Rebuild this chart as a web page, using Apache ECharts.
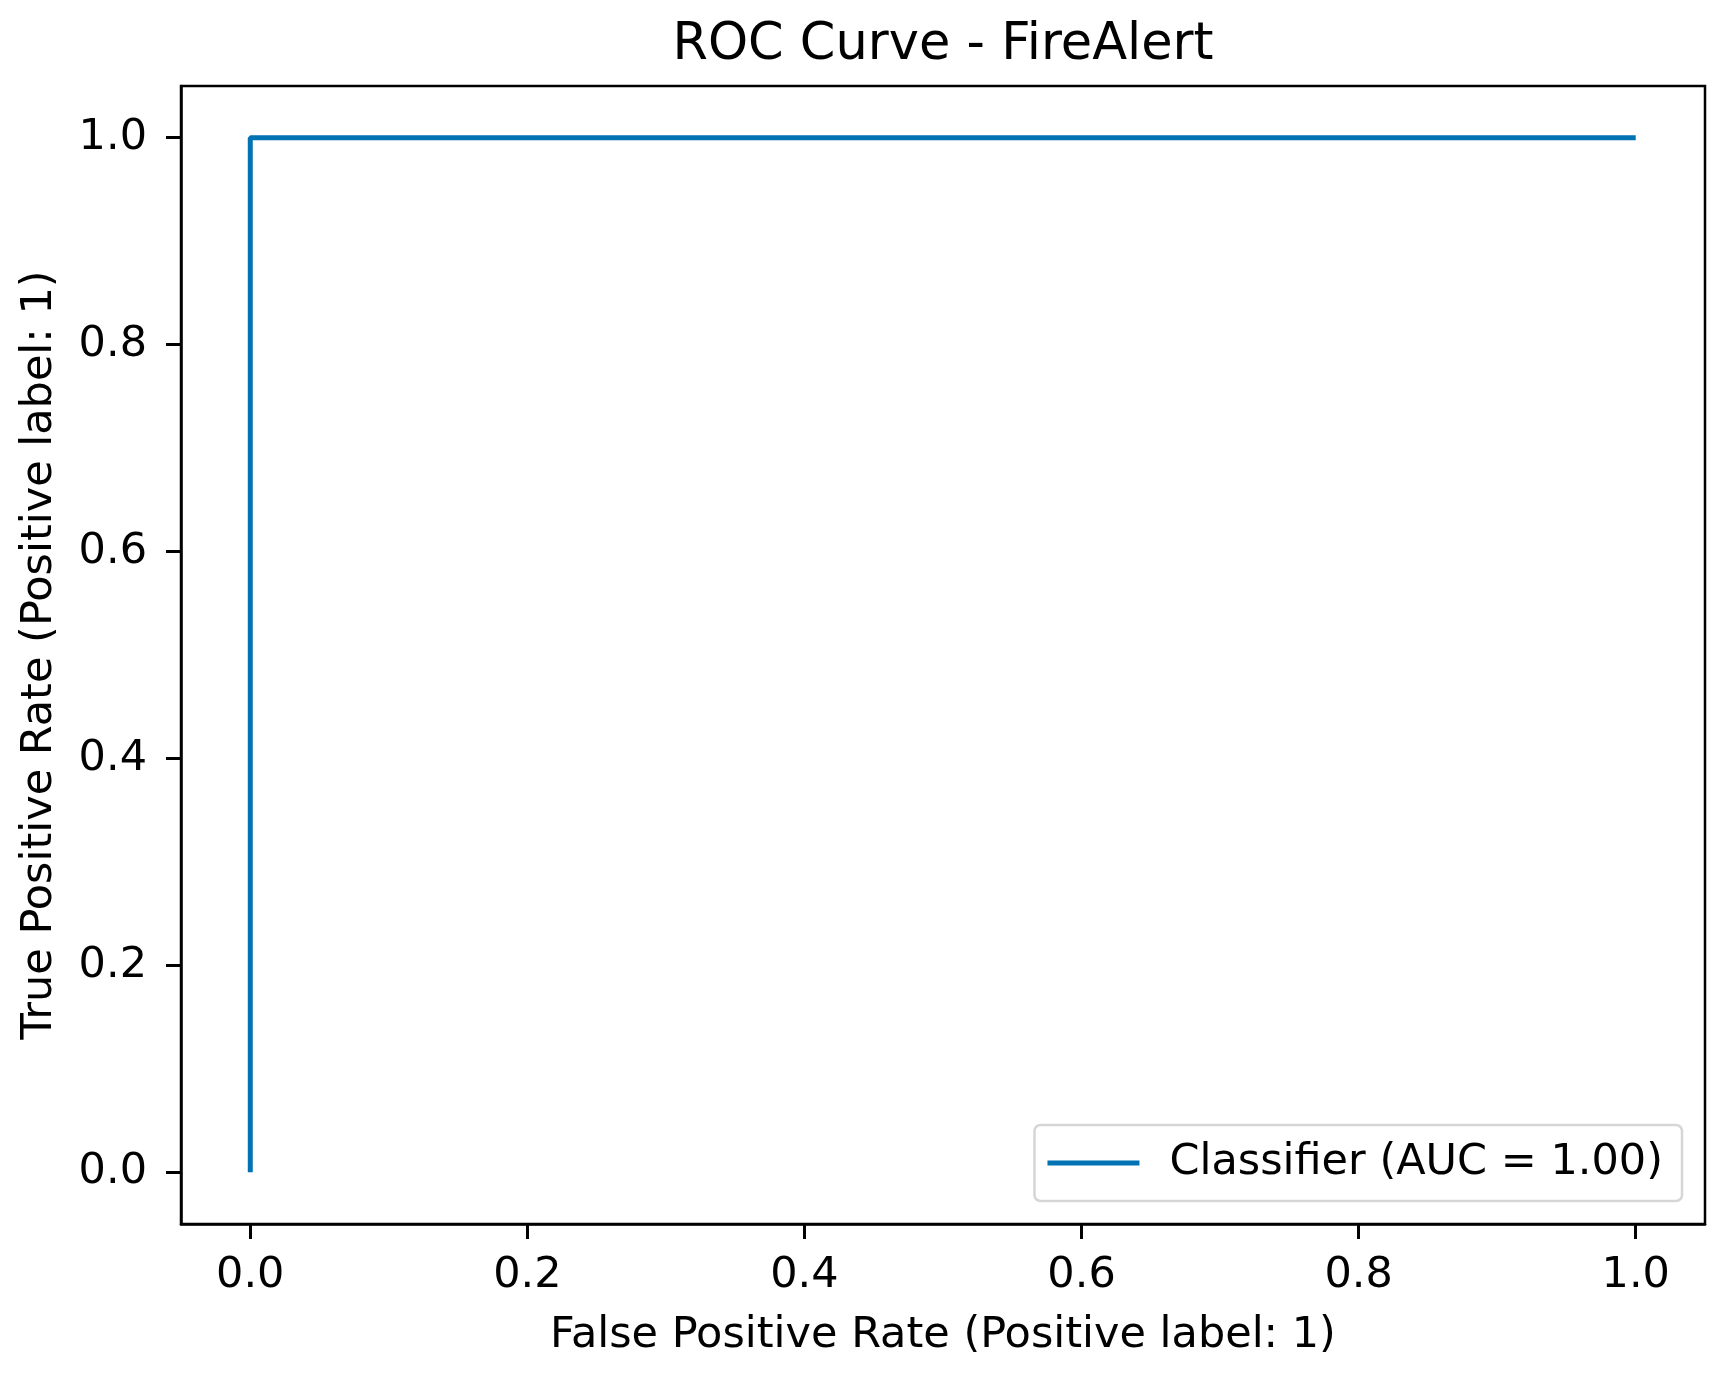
<!DOCTYPE html>
<html>
<head>
<meta charset="utf-8">
<title>ROC Curve - FireAlert</title>
<script src="https://cdn.jsdelivr.net/npm/echarts@6/dist/echarts.min.js"></script>
<style>
  html, body { margin: 0; padding: 0; background: #fff; }
  #chartArea { width: 1721px; height: 1373px; }
</style>
</head>
<body>
<div id="chartArea"></div>
<script>
// ROC points
var fpr = [0.0, 0.0, 1.0];
var tpr = [0.0, 1.0, 1.0];
var tickValues = [0.0, 0.2, 0.4, 0.6, 0.8, 1.0];
var seriesName = 'Classifier (AUC = 1.00)';
var titleText = 'ROC Curve - FireAlert';

var FONT = 'DejaVu Sans';
var lineColor = '#0173b2';

var chartDom = document.getElementById('chartArea');
var myChart = echarts.init(chartDom);

// centre the title over the plot area, not the whole canvas
var ctx = document.createElement('canvas').getContext('2d');
ctx.font = '51px "' + FONT + '"';
var titleWidth = ctx.measureText(titleText).width;
var plotCentre = (181 + 1705) / 2;

var points = [];
for (var i = 0; i < fpr.length; i++) {
    points.push([fpr[i], tpr[i]]);
}

function axisOpts(name, gap, labelMargin) {
    return {
        type: 'value',
        min: -0.05,
        max: 1.05,
        name: name,
        nameLocation: 'middle',
        nameGap: gap,
        nameTextStyle: { fontFamily: FONT, fontSize: 43, color: '#000' },
        axisLine: { show: true, onZero: false, lineStyle: { color: '#000', width: 2.5 } },
        splitLine: { show: false },
        axisTick: {
            show: true, inside: false, length: 15,
            customValues: tickValues,
            lineStyle: { color: '#000', width: 3 }
        },
        axisLabel: {
            customValues: tickValues,
            margin: labelMargin,
            fontFamily: FONT, fontSize: 43, color: '#000',
            formatter: function (v) { return v.toFixed(1); }
        }
    };
}

var option = {
    animation: false,
    backgroundColor: '#fff',
    title: {
        text: titleText,
        left: plotCentre - titleWidth / 2 - 5,
        top: 15,
        textStyle: { fontFamily: FONT, fontSize: 51, fontWeight: 'normal', color: '#000' }
    },
    grid: {
        left: 181, right: 16, top: 86, bottom: 149,
        show: true, borderColor: '#000', borderWidth: 2.5,
        containLabel: false
    },
    legend: {
        right: 39,
        bottom: 172,
        orient: 'vertical',
        data: [{ name: seriesName, icon: 'rect' }],
        itemWidth: 92,
        itemHeight: 5,
        padding: [13, 19, 13, 13],
        borderColor: '#d6d6d6',
        borderWidth: 2.5,
        borderRadius: 6,
        backgroundColor: 'rgba(255,255,255,0.8)',
        textStyle: { fontFamily: FONT, fontSize: 43, color: '#000', padding: [0, 0, 0, 25], lineHeight: 50 }
    },
    xAxis: axisOpts('False Positive Rate (Positive label: 1)', 90, 30),
    yAxis: axisOpts('True Positive Rate (Positive label: 1)', 120, 34),
    series: [{
        name: seriesName,
        type: 'line',
        data: points,
        showSymbol: false,
        symbol: 'none',
        color: lineColor,
        lineStyle: { color: lineColor, width: 5 }
    }]
};

option && myChart.setOption(option);
</script>
</body>
</html>
